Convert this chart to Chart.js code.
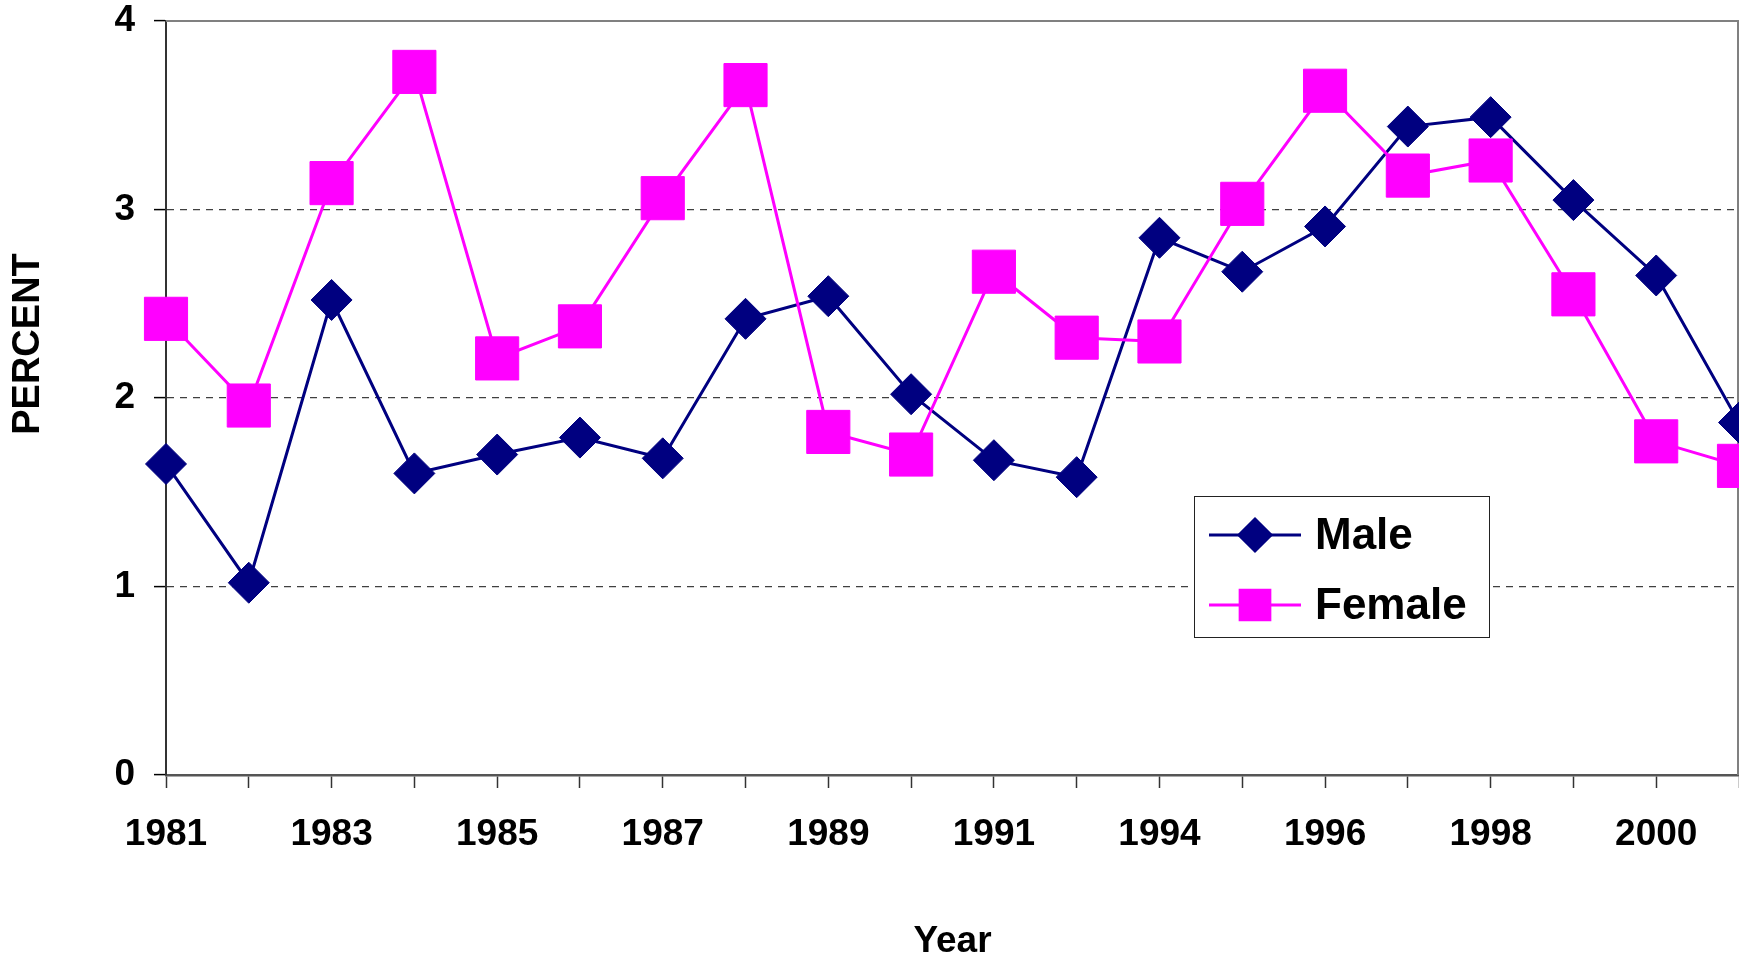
<!DOCTYPE html>
<html>
<head>
<meta charset="utf-8">
<script src="https://cdn.jsdelivr.net/npm/chart.js@4.4.1/dist/chart.umd.min.js"></script>
<style>
  html, body { margin: 0; padding: 0; background: #fff; }
  canvas { display: block; }
</style>
</head>
<body>
<canvas id="chart" width="1739" height="957"></canvas>
<script>
// DATA
const years = ['1981', '1982', '1983', '1984', '1985', '1986', '1987', '1988', '1989', '1990',
               '1991', '1992', '1994', '1995', '1996', '1997', '1998', '1999', '2000', '2001'];
const maleValues   = [1.65, 1.02, 2.52, 1.60, 1.70, 1.79, 1.68, 2.42, 2.54, 2.02,
                      1.67, 1.58, 2.85, 2.67, 2.91, 3.44, 3.49, 3.05, 2.65, 1.87];
const femaleValues = [2.42, 1.96, 3.14, 3.73, 2.21, 2.38, 3.06, 3.66, 1.82, 1.70,
                      2.67, 2.32, 2.30, 3.03, 3.63, 3.18, 3.26, 2.55, 1.77, 1.64];
const yTicks = [0, 1, 2, 3, 4];
const seriesNames = ['Male', 'Female'];
const yTitle = 'PERCENT';
const xTitle = 'Year';

const NAVY = '#000080';
const MAGENTA = '#FF00FF';
const FONT = "'Liberation Sans', Arial, sans-serif";

// frame + axis title + legend drawn on the canvas
const extras = {
    id: 'extras',
    beforeDatasetsDraw(chart) {
        const { ctx, chartArea: a } = chart;
        ctx.save();
        ctx.strokeStyle = '#808080';
        ctx.lineWidth = 2;
        ctx.beginPath();
        ctx.moveTo(a.left, a.top);
        ctx.lineTo(a.right - 1, a.top);
        ctx.lineTo(a.right - 1, a.bottom);
        ctx.stroke();
        ctx.restore();
    },
    afterDraw(chart) {
        const ctx = chart.ctx;
        ctx.save();

        // rotated y title
        ctx.fillStyle = '#000';
        ctx.font = `bold 38px ${FONT}`;
        ctx.textAlign = 'center';
        ctx.textBaseline = 'middle';
        ctx.translate(29, 344);
        ctx.rotate(-Math.PI / 2);
        ctx.fillText(yTitle, 0, 0);
        ctx.setTransform(1, 0, 0, 1, 0, 0);

        // legend box
        ctx.fillStyle = '#fff';
        ctx.fillRect(1194, 496, 295, 141);
        ctx.strokeStyle = '#222';
        ctx.lineWidth = 1;
        ctx.strokeRect(1194.5, 496.5, 295, 141);

        const rows = [
            { text: seriesNames[0], color: NAVY, style: 'rectRot', radius: 16, y: 535 },
            { text: seriesNames[1], color: MAGENTA, style: 'rect', radius: 21, y: 605 }
        ];
        rows.forEach(r => {
            ctx.strokeStyle = r.color;
            ctx.lineWidth = 3;
            ctx.beginPath();
            ctx.moveTo(1209, r.y);
            ctx.lineTo(1301, r.y);
            ctx.stroke();
            ctx.fillStyle = r.color;
            Chart.helpers.drawPoint(ctx, { pointStyle: r.style, radius: r.radius, rotation: 0, borderWidth: 1 }, 1255, r.y);
            ctx.fillStyle = '#000';
            ctx.font = `bold 44px ${FONT}`;
            ctx.textAlign = 'left';
            ctx.textBaseline = 'middle';
            ctx.fillText(r.text, 1315, r.y + 2);
        });
        ctx.restore();
    }
};

new Chart(document.getElementById('chart'), {
    type: 'line',
    data: {
        labels: years,
        datasets: [
            {
                label: seriesNames[0],
                data: maleValues,
                borderColor: NAVY,
                backgroundColor: NAVY,
                borderWidth: 3,
                pointStyle: 'rectRot',
                pointRadius: 20.5,
                pointBorderWidth: 1,
                pointBackgroundColor: NAVY,
                pointBorderColor: NAVY,
                tension: 0,
                order: 1
            },
            {
                label: seriesNames[1],
                data: femaleValues,
                borderColor: MAGENTA,
                backgroundColor: MAGENTA,
                borderWidth: 3,
                pointStyle: 'rect',
                pointRadius: 30.5,
                pointBorderWidth: 1,
                pointBackgroundColor: MAGENTA,
                pointBorderColor: MAGENTA,
                tension: 0,
                order: 0
            }
        ]
    },
    options: {
        responsive: false,
        animation: false,
        events: [],
        layout: { autoPadding: false, padding: { top: 21, right: 0, bottom: 0, left: 0 } },
        plugins: {
            legend: { display: false },
            tooltip: { enabled: false }
        },
        scales: {
            x: {
                type: 'category',
                offset: false,
                afterFit: s => { s.height = 182; s.paddingRight = 0; },
                grid: {
                    drawOnChartArea: false,
                    drawTicks: true,
                    tickLength: 13,
                    tickColor: '#333',
                    tickWidth: 1.5
                },
                border: { display: true, color: '#555', width: 2.5 },
                ticks: {
                    autoSkip: false,
                    maxRotation: 0,
                    padding: 25,
                    color: '#000',
                    font: { family: FONT, size: 37, weight: 'bold' },
                    callback: (v, i) => (i % 2 === 0 ? years[i] : '')
                },
                title: {
                    display: true,
                    text: xTitle,
                    color: '#000',
                    font: { family: FONT, size: 37, weight: 'bold', lineHeight: 0.8 },
                    padding: { top: 0, bottom: 0 }
                }
            },
            y: {
                min: yTicks[0],
                max: yTicks[yTicks.length - 1],
                afterFit: s => { s.width = 166; s.paddingTop = 0; s.paddingBottom = 0; },
                afterBuildTicks: s => { s.ticks = yTicks.map(v => ({ value: v })); },
                grid: {
                    color: c => (c.tick && c.tick.value > 0 && c.tick.value < 4 ? '#404040' : 'rgba(0,0,0,0)'),
                    lineWidth: 1.2,
                    drawTicks: true,
                    tickLength: 12,
                    tickColor: '#000',
                    tickWidth: 1.5
                },
                border: { display: true, color: '#333', width: 2, dash: [7, 6] },
                ticks: {
                    padding: 19,
                    color: '#000',
                    font: { family: FONT, size: 37, weight: 'bold', lineHeight: 1 }
                }
            }
        }
    },
    plugins: [extras]
});
</script>
</body>
</html>
